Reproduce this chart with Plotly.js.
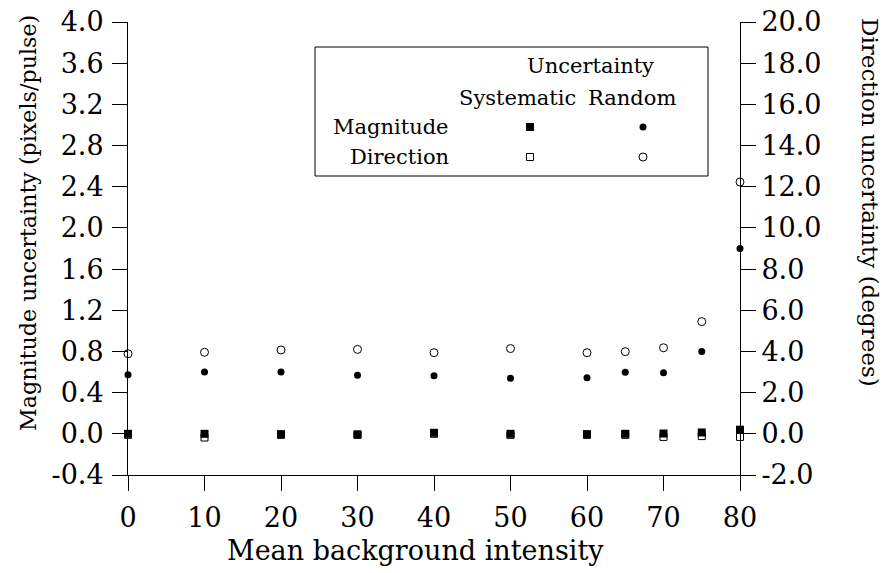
<!DOCTYPE html>
<html>
<head>
<meta charset="utf-8">
<script src="https://cdn.plot.ly/plotly-3.0.1.min.js"></script>
<style>html,body{margin:0;padding:0;background:#fff;}#chart{width:890px;height:573px;}</style>
</head>
<body>
<div id="chart"></div>
<script>
// Data
var intensity = [0, 10, 20, 30, 40, 50, 60, 65, 70, 75, 80];
var magSystematic = [0.0, 0.0, -0.003, -0.005, 0.01, 0.0, -0.003, 0.0, 0.003, 0.013, 0.04];
var magRandom = [0.574, 0.60, 0.60, 0.57, 0.564, 0.54, 0.545, 0.597, 0.594, 0.80, 1.80];
var dirSystematic = [-0.05, -0.18, -0.05, -0.05, 0.0, -0.05, -0.05, -0.05, -0.15, -0.11, -0.15];
var dirRandom = [3.89, 3.96, 4.07, 4.10, 3.94, 4.14, 3.94, 3.99, 4.18, 5.45, 12.23];

var magTicks = [-0.4, 0.0, 0.4, 0.8, 1.2, 1.6, 2.0, 2.4, 2.8, 3.2, 3.6, 4.0];
var magTickText = ["-0.4", "0.0", "0.4", "0.8", "1.2", "1.6", "2.0", "2.4", "2.8", "3.2", "3.6", "4.0"];
var dirTicks = [-2, 0, 2, 4, 6, 8, 10, 12, 14, 16, 18, 20];
var dirTickText = ["-2.0", "0.0", "2.0", "4.0", "6.0", "8.0", "10.0", "12.0", "14.0", "16.0", "18.0", "20.0"];
var xTicks = [0, 10, 20, 30, 40, 50, 60, 70, 80];

var SERIF = "DejaVu Serif";
var tickFont = {family: SERIF, size: 27, color: "#000"};
var legFont = {family: SERIF, size: 21, color: "#000"};

var traces = [
  {x: intensity, y: dirSystematic, yaxis: "y", mode: "markers", cliponaxis: false,
   marker: {symbol: "square-open", size: 7, color: "#000", line: {width: 1, color: "#000"}}},
  {x: intensity, y: dirRandom, yaxis: "y", mode: "markers", cliponaxis: false,
   marker: {symbol: "circle-open", size: 8, color: "#000", line: {width: 1, color: "#000"}}},
  {x: intensity, y: magSystematic, yaxis: "y2", mode: "markers", cliponaxis: false,
   marker: {symbol: "square", size: 8, color: "#000"}},
  {x: intensity, y: magRandom, yaxis: "y2", mode: "markers", cliponaxis: false,
   marker: {symbol: "circle", size: 7, color: "#000"}}
];

// pixel -> paper helpers for legend decorations
var L = 128, R = 740, T = 22, B = 475;
function px(x) { return (x - L) / (R - L); }
function py(y) { return (B - y) / (B - T); }

var shapes = [
  {type: "rect", xref: "paper", yref: "paper", x0: px(315), x1: px(708), y0: py(176), y1: py(47),
   line: {color: "#000", width: 1}, fillcolor: "#fff", layer: "above"},
  {type: "rect", xref: "paper", yref: "paper", x0: px(526), x1: px(534), y0: py(131), y1: py(123),
   line: {width: 0}, fillcolor: "#000", layer: "above"},
  {type: "circle", xref: "paper", yref: "paper", x0: px(639.5), x1: px(646.5), y0: py(130.5), y1: py(123.5),
   line: {width: 0}, fillcolor: "#000", layer: "above"},
  {type: "rect", xref: "paper", yref: "paper", x0: px(526.5), x1: px(533.5), y0: py(160.5), y1: py(153.5),
   line: {width: 1, color: "#000"}, fillcolor: "#fff", layer: "above"},
  {type: "circle", xref: "paper", yref: "paper", x0: px(639), x1: px(647), y0: py(161), y1: py(153),
   line: {width: 1, color: "#000"}, fillcolor: "#fff", layer: "above"}
];

function ann(text, x, y, xanchor, font, angle) {
  return {text: text, xref: "paper", yref: "paper", x: px(x), y: py(y), xanchor: xanchor, yanchor: "middle",
          showarrow: false, font: font, textangle: angle || 0};
}
var annotations = [
  ann("Uncertainty", 590, 66, "center", legFont),
  ann("Systematic", 517, 98, "center", legFont),
  ann("Random", 632, 98, "center", legFont),
  ann("Magnitude", 451, 127, "right", legFont),
  ann("Direction", 451, 157, "right", legFont),
  ann("Mean background intensity", 415, 550, "center", {family: SERIF, size: 27, color: "#000"}),
  ann("Magnitude uncertainty (pixels/pulse)", 28, 223, "center", {family: SERIF, size: 22.2, color: "#000"}, -90),
  ann("Direction uncertainty (degrees)", 870, 202, "center", {family: SERIF, size: 23, color: "#000"}, 90)
];

var layout = {
  width: 890, height: 573,
  margin: {l: L, r: 890 - R, t: T, b: 573 - B, pad: 0},
  paper_bgcolor: "#fff", plot_bgcolor: "#fff",
  showlegend: false,
  xaxis: {range: [0, 80], tickvals: xTicks, ticktext: xTicks.map(String), ticks: "outside", ticklen: 15,
          tickwidth: 1, tickcolor: "#000", showline: true, linecolor: "#000", linewidth: 1,
          showgrid: false, zeroline: false, tickfont: tickFont, ticklabelstandoff: 4},
  yaxis: {range: [-2, 20], side: "right", tickvals: dirTicks, ticktext: dirTickText, ticks: "outside",
          ticklen: 15, tickwidth: 1, tickcolor: "#000", showline: true, linecolor: "#000", linewidth: 1,
          showgrid: false, zeroline: false, tickfont: tickFont},
  yaxis2: {range: [-0.4, 4.0], side: "left", overlaying: "y", tickvals: magTicks, ticktext: magTickText,
           ticks: "outside", ticklen: 15, tickwidth: 1, tickcolor: "#000", showline: true, linecolor: "#000",
           linewidth: 1, showgrid: false, zeroline: false, tickfont: tickFont, ticklabelstandoff: 3},
  shapes: shapes,
  annotations: annotations
};

Plotly.newPlot("chart", traces, layout, {displayModeBar: false, staticPlot: true});
</script>
</body>
</html>
